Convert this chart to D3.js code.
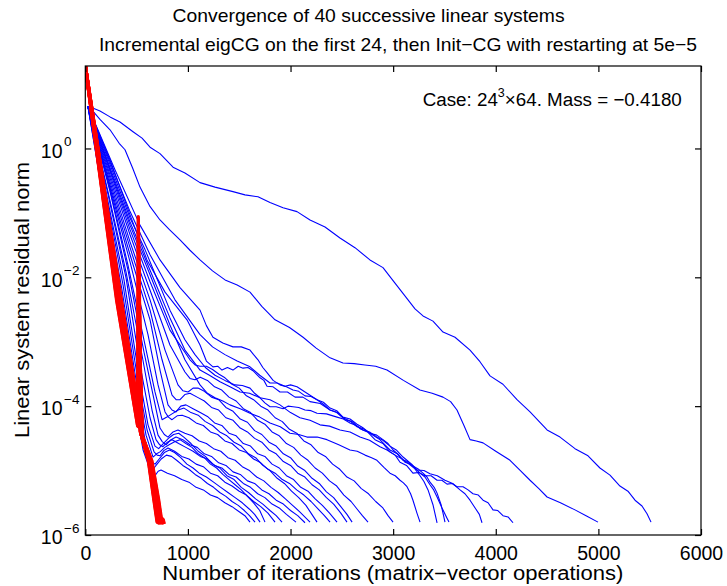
<!DOCTYPE html>
<html><head><meta charset="utf-8">
<script src="https://cdn.jsdelivr.net/npm/d3@7"></script>
<style>
body{margin:0;background:#fff}
text{font-family:"Liberation Sans",Arial,Helvetica,sans-serif;fill:#000}
</style>
</head><body>
<svg id="chart" width="727" height="586"></svg>
<script>
// ---------- data (iteration, log10 of residual norm) ----------
const titleLines = ["Convergence of 40 successive linear systems",
  "Incremental eigCG on the first 24, then Init\u2212CG with restarting at 5e\u22125"];
const xLabel = "Number of iterations (matrix\u2212vector operations)";
const yLabel = "Linear system residual norm";
const xTicks = [0,1000,2000,3000,4000,5000,6000];
const yTickExps = [0,-2,-4,-6];
const xDomain = [0,6000];
const yDomainExp = [-6,1.28];

// eigCG systems 1..24 (blue)
const sys01=[[37,0.65],[143,0.58],[241,0.49],[338,0.41],[465,0.26],[553,0.16],[631,0.02],[728,-0.08],[855,-0.29],[971,-0.38],[1118,-0.53],[1264,-0.6],[1439,-0.67],[1556,-0.72],[1683,-0.75],[1800,-0.84],[1927,-0.92],[2063,-0.98],[2190,-1.11],[2336,-1.22],[2482,-1.39],[2628,-1.54],[2774,-1.73],[2901,-1.85],[3018,-2.09],[3145,-2.35],[3213,-2.49],[3291,-2.6],[3388,-2.68],[3486,-2.85],[3603,-2.93],[3749,-3.13],[3846,-3.31],[3944,-3.53],[4070,-3.66],[4207,-3.9],[4334,-4.09],[4500,-4.37],[4626,-4.48],[4772,-4.66],[4899,-4.77],[5015,-4.96],[5113,-5.07],[5210,-5.24],[5288,-5.32],[5357,-5.46],[5425,-5.55],[5474,-5.67],[5513,-5.8]];
const sys02=[[37,0.65],[143,0.45],[241,0.29],[330,0.08],[387,-0.02],[460,-0.3],[533,-0.6],[630,-0.9],[728,-1.11],[820,-1.26],[923,-1.42],[1020,-1.58],[1118,-1.73],[1240,-1.9],[1362,-2.04],[1480,-2.12],[1605,-2.23],[1720,-2.45],[1849,-2.66],[1990,-2.78],[2122,-2.93],[2250,-3.1],[2385,-3.25],[2511,-3.33],[2620,-3.34],[2725,-3.36],[2830,-3.38],[2940,-3.44],[3100,-3.6],[3261,-3.75],[3380,-3.8],[3486,-3.86],[3560,-3.93],[3622,-4.06],[3690,-4.3],[3749,-4.52],[3810,-4.54],[3876,-4.57],[4000,-4.7],[4139,-4.84],[4240,-5.0],[4334,-5.15],[4420,-5.28],[4500,-5.41],[4630,-5.5],[4772,-5.61],[4880,-5.7],[4996,-5.8]];
const sys03=[[26,0.65],[241,-0.18],[436,-1.03],[601,-1.73],[777,-2.23],[991,-2.66],[1118,-3.05],[1180,-3.3],[1244,-3.39],[1290,-3.38],[1332,-3.44],[1385,-3.4],[1439,-3.44],[1490,-3.38],[1537,-3.41],[1585,-3.4],[1634,-3.45],[1703,-3.56],[1740,-3.6],[1771,-3.69],[1830,-3.7],[1897,-3.78],[1970,-3.78],[2044,-3.86],[2120,-3.86],[2190,-3.93],[2290,-3.96],[2385,-4.06],[2460,-4.1],[2531,-4.21],[2600,-4.24],[2677,-4.35],[2750,-4.4],[2823,-4.52],[2900,-4.58],[2969,-4.71],[3020,-4.76],[3067,-4.87],[3130,-4.92],[3193,-5.04],[3250,-5.03],[3310,-5.08],[3370,-5.08],[3428,-5.15],[3475,-5.15],[3525,-5.21],[3575,-5.2],[3622,-5.25],[3681,-5.25],[3730,-5.3],[3778,-5.36],[3830,-5.38],[3876,-5.46],[3925,-5.5],[3973,-5.61],[4020,-5.62],[4070,-5.7],[4120,-5.72],[4168,-5.81]];
const sys04=[[26,0.65],[241,-0.21],[436,-0.98],[631,-1.65],[874,-2.35],[1118,-2.89],[1240,-3.08],[1361,-3.2],[1480,-3.3],[1605,-3.39],[1700,-3.52],[1800,-3.64],[1870,-3.64],[1946,-3.69],[2000,-3.67],[2063,-3.7],[2160,-3.8],[2258,-3.9],[2320,-3.94],[2385,-4.03],[2450,-4.07],[2511,-4.17],[2580,-4.2],[2648,-4.28],[2710,-4.34],[2774,-4.42],[2870,-4.52],[2969,-4.68],[3040,-4.74],[3115,-4.87],[3170,-4.9],[3232,-4.99],[3300,-5.0],[3359,-5.05],[3430,-5.08],[3505,-5.15],[3580,-5.2],[3652,-5.3],[3700,-5.36],[3749,-5.46],[3807,-5.6],[3840,-5.68],[3866,-5.81]];
const sys05=[[26,0.65],[289,-0.33],[533,-1.19],[728,-1.73],[923,-2.16],[1118,-2.51],[1180,-2.75],[1244,-2.93],[1340,-3.02],[1439,-3.08],[1520,-3.08],[1605,-3.13],[1640,-3.2],[1683,-3.28],[1730,-3.4],[1771,-3.48],[1830,-3.6],[1897,-3.67],[1960,-3.7],[2024,-3.75],[2080,-3.77],[2141,-3.84],[2200,-3.85],[2258,-3.9],[2320,-3.97],[2385,-4.06],[2450,-4.1],[2511,-4.18],[2580,-4.23],[2648,-4.32],[2710,-4.35],[2774,-4.42],[2840,-4.45],[2901,-4.52],[2950,-4.58],[2999,-4.68],[3050,-4.75],[3096,-4.84],[3145,-4.86],[3193,-4.93],[3240,-4.97],[3291,-5.04],[3330,-5.1],[3359,-5.18],[3400,-5.26],[3428,-5.35],[3467,-5.53],[3486,-5.66],[3505,-5.8]];
const sys06=[[26,0.65],[241,-0.25],[436,-1.08],[582,-1.57],[825,-2.51],[971,-2.97],[1069,-3.2],[1170,-3.4],[1264,-3.52],[1360,-3.6],[1459,-3.67],[1530,-3.68],[1605,-3.72],[1650,-3.8],[1703,-3.87],[1750,-3.95],[1800,-4.01],[1860,-4.01],[1927,-4.04],[1975,-4.0],[2024,-4.01],[2080,-4.02],[2141,-4.06],[2200,-4.07],[2258,-4.11],[2350,-4.12],[2453,-4.17],[2515,-4.2],[2579,-4.26],[2640,-4.3],[2706,-4.37],[2770,-4.4],[2842,-4.48],[2900,-4.53],[2969,-4.62],[3030,-4.68],[3096,-4.79],[3180,-4.9],[3262,-5.04],[3310,-5.1],[3359,-5.22],[3395,-5.3],[3428,-5.41],[3476,-5.58],[3525,-5.74],[3544,-5.8]];
const sys07=[[26,0.65],[241,-0.3],[436,-1.14],[631,-1.89],[825,-2.63],[971,-3.13],[1118,-3.44],[1210,-3.52],[1313,-3.62],[1410,-3.7],[1508,-3.78],[1600,-3.8],[1703,-3.87],[1800,-3.9],[1897,-3.98],[2000,-4.1],[2092,-4.18],[2190,-4.22],[2287,-4.29],[2380,-4.31],[2482,-4.37],[2580,-4.4],[2677,-4.48],[2770,-4.53],[2872,-4.63],[2940,-4.68],[3018,-4.76],[3090,-4.82],[3164,-4.91],[3210,-4.97],[3262,-5.08],[3300,-5.17],[3340,-5.3],[3388,-5.53],[3428,-5.81]];
const sys08=[[26,0.65],[241,-0.33],[436,-1.19],[631,-1.96],[825,-2.74],[971,-3.28],[1118,-3.67],[1190,-3.8],[1264,-3.87],[1340,-3.92],[1410,-3.98],[1510,-4.04],[1605,-4.11],[1700,-4.17],[1800,-4.26],[1900,-4.32],[1995,-4.42],[2080,-4.44],[2160,-4.48],[2260,-4.48],[2355,-4.52],[2470,-4.6],[2579,-4.68],[2650,-4.7],[2726,-4.76],[2790,-4.8],[2842,-4.84],[2910,-4.95],[2969,-5.04],[3020,-5.08],[3067,-5.15],[3100,-5.19],[3135,-5.25],[3170,-5.36],[3193,-5.46],[3232,-5.66],[3262,-5.8]];
const sys09=[[26,0.65],[241,-0.36],[436,-1.26],[631,-2.07],[825,-2.82],[1020,-3.28],[1070,-3.36],[1118,-3.38],[1180,-3.38],[1240,-3.43],[1300,-3.5],[1361,-3.56],[1430,-3.66],[1500,-3.72],[1570,-3.84],[1640,-3.9],[1710,-4.0],[1780,-4.06],[1850,-4.18],[1920,-4.24],[1990,-4.36],[2060,-4.42],[2130,-4.54],[2200,-4.6],[2270,-4.72],[2340,-4.78],[2410,-4.9],[2480,-4.98],[2550,-5.1],[2620,-5.16],[2690,-5.28],[2760,-5.36],[2830,-5.48],[2900,-5.58],[2950,-5.7],[2999,-5.8]];
const sys10=[[26,0.65],[241,-0.41],[436,-1.34],[631,-2.2],[825,-3.05],[971,-3.47],[1020,-3.57],[1069,-3.59],[1120,-3.55],[1190,-3.6],[1260,-3.7],[1330,-3.75],[1400,-3.86],[1470,-3.92],[1540,-4.04],[1610,-4.1],[1680,-4.22],[1750,-4.28],[1820,-4.4],[1890,-4.46],[1960,-4.58],[2030,-4.64],[2100,-4.76],[2170,-4.84],[2240,-4.96],[2310,-5.04],[2380,-5.16],[2450,-5.24],[2520,-5.38],[2590,-5.48],[2650,-5.6],[2700,-5.7],[2755,-5.8]];
const sys11=[[26,0.65],[241,-0.46],[436,-1.45],[631,-2.35],[777,-3.13],[903,-3.67],[950,-3.76],[1001,-3.78],[1050,-3.72],[1098,-3.72],[1160,-3.77],[1230,-3.86],[1300,-3.9],[1370,-4.02],[1440,-4.08],[1510,-4.2],[1580,-4.25],[1650,-4.38],[1720,-4.44],[1790,-4.56],[1860,-4.62],[1930,-4.74],[2000,-4.8],[2070,-4.93],[2140,-5.0],[2210,-5.12],[2280,-5.2],[2350,-5.33],[2420,-5.42],[2490,-5.56],[2550,-5.68],[2600,-5.8]];
const sys12=[[26,0.65],[241,-0.52],[436,-1.54],[631,-2.51],[748,-3.28],[845,-3.83],[885,-3.9],[923,-3.9],[970,-3.82],[1020,-3.8],[1090,-3.86],[1160,-3.92],[1230,-4.02],[1300,-4.06],[1370,-4.18],[1440,-4.22],[1510,-4.34],[1580,-4.4],[1650,-4.5],[1720,-4.56],[1790,-4.68],[1860,-4.74],[1930,-4.86],[2000,-4.92],[2070,-5.04],[2140,-5.1],[2210,-5.22],[2280,-5.3],[2350,-5.42],[2420,-5.52],[2490,-5.66],[2550,-5.8]];
const sys13=[[26,0.65],[241,-0.57],[436,-1.65],[631,-2.66],[728,-3.44],[806,-3.98],[845,-4.06],[884,-4.09],[930,-4.0],[981,-3.98],[1050,-4.04],[1120,-4.1],[1190,-4.16],[1260,-4.26],[1330,-4.3],[1400,-4.42],[1470,-4.46],[1540,-4.58],[1610,-4.62],[1680,-4.74],[1750,-4.78],[1820,-4.9],[1890,-4.96],[1960,-5.08],[2030,-5.14],[2100,-5.26],[2170,-5.32],[2240,-5.44],[2310,-5.54],[2380,-5.66],[2453,-5.8]];
const sys14=[[26,0.65],[241,-0.61],[436,-1.76],[611,-2.89],[709,-3.67],[777,-4.09],[810,-4.17],[845,-4.21],[895,-4.15],[943,-4.14],[1010,-4.18],[1080,-4.26],[1150,-4.3],[1220,-4.4],[1290,-4.44],[1360,-4.54],[1430,-4.58],[1500,-4.68],[1570,-4.72],[1640,-4.82],[1710,-4.88],[1780,-4.98],[1850,-5.04],[1920,-5.14],[1990,-5.2],[2060,-5.3],[2130,-5.38],[2200,-5.48],[2270,-5.6],[2330,-5.7],[2385,-5.8]];
const sys15=[[26,0.65],[241,-0.64],[416,-1.81],[582,-3.05],[679,-3.78],[748,-4.21],[795,-4.17],[845,-4.12],[905,-4.06],[962,-4.03],[1030,-4.1],[1100,-4.14],[1170,-4.24],[1240,-4.3],[1310,-4.4],[1380,-4.46],[1450,-4.56],[1520,-4.62],[1590,-4.74],[1660,-4.8],[1730,-4.92],[1800,-5.0],[1870,-5.12],[1940,-5.2],[2010,-5.32],[2080,-5.42],[2150,-5.54],[2200,-5.66],[2258,-5.8]];
const sys16=[[26,0.65],[241,-0.67],[416,-1.89],[572,-3.16],[670,-3.9],[728,-4.34],[770,-4.44],[806,-4.48],[855,-4.4],[903,-4.37],[970,-4.42],[1040,-4.46],[1110,-4.54],[1180,-4.58],[1250,-4.66],[1320,-4.7],[1390,-4.8],[1460,-4.84],[1530,-4.94],[1600,-5.0],[1670,-5.1],[1740,-5.16],[1810,-5.26],[1880,-5.34],[1950,-5.44],[2020,-5.54],[2090,-5.64],[2190,-5.8]];
const sys17=[[26,0.65],[221,-0.67],[397,-1.92],[553,-3.21],[650,-4.06],[709,-4.45],[750,-4.55],[787,-4.6],[835,-4.52],[884,-4.48],[950,-4.52],[1020,-4.6],[1090,-4.64],[1160,-4.74],[1230,-4.78],[1300,-4.88],[1370,-4.92],[1440,-5.02],[1510,-5.06],[1580,-5.16],[1650,-5.2],[1720,-5.3],[1790,-5.36],[1860,-5.46],[1930,-5.52],[2000,-5.62],[2070,-5.7],[2141,-5.81]];
const sys18=[[26,0.65],[221,-0.71],[397,-2.01],[533,-3.36],[631,-4.18],[689,-4.52],[725,-4.6],[757,-4.63],[800,-4.56],[845,-4.52],[910,-4.58],[980,-4.64],[1050,-4.7],[1120,-4.78],[1190,-4.82],[1260,-4.92],[1330,-4.96],[1400,-5.06],[1470,-5.1],[1540,-5.2],[1610,-5.26],[1680,-5.36],[1750,-5.42],[1820,-5.52],[1890,-5.58],[1960,-5.68],[2053,-5.8]];
const sys19=[[26,0.65],[212,-0.75],[377,-2.04],[514,-3.44],[611,-4.29],[679,-4.62],[715,-4.66],[760,-4.58],[810,-4.5],[860,-4.44],[910,-4.42],[960,-4.48],[1030,-4.58],[1100,-4.7],[1170,-4.78],[1240,-4.9],[1310,-4.96],[1380,-5.08],[1450,-5.14],[1520,-5.26],[1590,-5.34],[1660,-5.44],[1730,-5.52],[1800,-5.62],[1860,-5.7],[1917,-5.8]];
const sys20=[[26,0.65],[212,-0.8],[368,-2.12],[504,-3.52],[602,-4.37],[670,-4.71],[700,-4.76],[728,-4.77],[765,-4.69],[806,-4.65],[870,-4.7],[940,-4.78],[1010,-4.82],[1080,-4.9],[1150,-4.94],[1220,-5.04],[1290,-5.08],[1360,-5.18],[1430,-5.24],[1500,-5.32],[1570,-5.38],[1640,-5.48],[1710,-5.56],[1780,-5.66],[1849,-5.8]];
const sys21=[[26,0.65],[202,-0.82],[358,-2.2],[494,-3.59],[592,-4.45],[660,-4.79],[695,-4.74],[728,-4.71],[775,-4.64],[825,-4.59],[875,-4.55],[923,-4.52],[980,-4.58],[1040,-4.64],[1100,-4.74],[1160,-4.8],[1220,-4.9],[1280,-4.96],[1340,-5.06],[1400,-5.14],[1460,-5.22],[1520,-5.3],[1580,-5.4],[1640,-5.5],[1700,-5.62],[1751,-5.8]];
const sys22=[[26,0.65],[202,-0.87],[348,-2.27],[484,-3.67],[582,-4.52],[650,-4.87],[680,-4.9],[720,-4.82],[770,-4.72],[820,-4.68],[870,-4.72],[930,-4.8],[990,-4.9],[1050,-4.96],[1110,-5.04],[1180,-5.1],[1250,-5.18],[1320,-5.26],[1390,-5.34],[1460,-5.42],[1530,-5.5],[1600,-5.6],[1650,-5.68],[1703,-5.8]];
const sys23=[[26,0.65],[192,-0.9],[338,-2.32],[475,-3.75],[572,-4.6],[640,-4.93],[670,-4.96],[699,-4.9],[740,-4.82],[790,-4.76],[840,-4.78],[890,-4.84],[950,-4.92],[1010,-4.98],[1070,-5.06],[1130,-5.12],[1190,-5.2],[1250,-5.26],[1310,-5.34],[1370,-5.4],[1430,-5.48],[1490,-5.54],[1550,-5.62],[1600,-5.7],[1654,-5.8]];
const sys24=[[26,0.65],[192,-0.95],[329,-2.35],[465,-3.83],[563,-4.68],[631,-4.99],[655,-5.06],[679,-5.08],[710,-5.01],[738,-4.99],[800,-5.04],[870,-5.08],[940,-5.14],[1010,-5.18],[1080,-5.26],[1150,-5.3],[1220,-5.38],[1290,-5.42],[1360,-5.5],[1430,-5.56],[1500,-5.64],[1555,-5.7],[1605,-5.8]];

// Init-CG systems 25..40 (red)
const sys25=[[0,1.28],[305,-2.35],[510,-4.3],[516,-1.06],[535,-4.38],[615,-4.85],[668,-5.45],[700,-5.8],[710,-5.75],[722,-5.83]];
const sys26=[[0,1.28],[312,-2.35],[515,-4.3],[521,-1.6],[538,-4.4],[620,-4.85],[674,-5.45],[706,-5.8],[718,-5.76],[728,-5.83]];
const sys27=[[0,1.28],[318,-2.35],[520,-4.32],[526,-2.1],[541,-4.42],[624,-4.85],[680,-5.45],[712,-5.8],[722,-5.75],[734,-5.82]];
const sys28=[[0,1.28],[324,-2.35],[524,-4.3],[529,-2.6],[544,-4.42],[628,-4.85],[686,-5.45],[718,-5.8],[730,-5.76],[740,-5.83]];
const sys29=[[0,1.28],[330,-2.35],[528,-4.33],[532,-3.0],[547,-4.44],[632,-4.85],[692,-5.45],[724,-5.8],[735,-5.75],[746,-5.82]];
const sys30=[[0,1.28],[336,-2.35],[532,-4.3],[536,-3.4],[550,-4.46],[636,-4.85],[698,-5.45],[730,-5.8],[742,-5.76],[752,-5.83]];
const sys31=[[0,1.28],[342,-2.35],[536,-4.32],[540,-3.7],[553,-4.46],[640,-4.85],[704,-5.45],[736,-5.8],[748,-5.75],[758,-5.82]];
const sys32=[[0,1.28],[348,-2.35],[540,-4.3],[543,-3.9],[556,-4.47],[645,-4.85],[710,-5.45],[742,-5.8],[754,-5.76],[764,-5.83]];
const sys33=[[0,1.28],[308,-2.35],[512,-4.31],[518,-1.3],[536,-4.39],[617,-4.85],[671,-5.45],[703,-5.8],[714,-5.75],[724,-5.83]];
const sys34=[[0,1.28],[315,-2.35],[517,-4.3],[523,-1.9],[539,-4.41],[622,-4.85],[677,-5.45],[709,-5.8],[720,-5.76],[731,-5.82]];
const sys35=[[0,1.28],[321,-2.35],[522,-4.32],[527,-2.4],[542,-4.42],[626,-4.85],[683,-5.45],[715,-5.8],[727,-5.75],[737,-5.83]];
const sys36=[[0,1.28],[327,-2.35],[526,-4.3],[530,-2.8],[545,-4.43],[630,-4.85],[689,-5.45],[721,-5.8],[732,-5.76],[743,-5.82]];
const sys37=[[0,1.28],[333,-2.35],[530,-4.31],[534,-3.2],[548,-4.45],[634,-4.85],[695,-5.45],[727,-5.8],[739,-5.75],[749,-5.83]];
const sys38=[[0,1.28],[339,-2.35],[534,-4.3],[538,-3.55],[551,-4.46],[638,-4.85],[701,-5.45],[733,-5.8],[745,-5.76],[755,-5.82]];
const sys39=[[0,1.28],[345,-2.35],[538,-4.32],[541,-3.8],[554,-4.47],[642,-4.85],[707,-5.45],[739,-5.8],[751,-5.75],[761,-5.83]];
const sys40=[[0,1.28],[351,-2.35],[542,-4.3],[545,-4.0],[558,-4.48],[648,-4.85],[714,-5.45],[746,-5.8],[758,-5.76],[770,-5.83]];

const eigcgSystems=[sys01,sys02,sys03,sys04,sys05,sys06,sys07,sys08,sys09,sys10,sys11,sys12,sys13,sys14,sys15,sys16,sys17,sys18,sys19,sys20,sys21,sys22,sys23,sys24];
const initcgSystems=[sys25,sys26,sys27,sys28,sys29,sys30,sys31,sys32,sys33,sys34,sys35,sys36,sys37,sys38,sys39,sys40];

// ---------- drawing ----------
const svg=d3.select("#chart");
const L=85.3,R=701,T=66,B=535;
const x=d3.scaleLinear().domain(xDomain).range([L,R]);
const y=d3.scaleLog().domain(yDomainExp.map(e=>Math.pow(10,e))).range([B,T]);

svg.append("defs").append("clipPath").attr("id","clip")
  .append("rect").attr("x",L).attr("y",T).attr("width",R-L).attr("height",B-T);

const line=d3.line().x(d=>x(d[0])).y(d=>y(Math.pow(10,d[1])));
const g=svg.append("g").attr("clip-path","url(#clip)");
g.selectAll("path.blue").data(eigcgSystems).join("path").attr("class","blue")
  .attr("d",line).attr("fill","none").attr("stroke","#0000ff").attr("stroke-width",1.1)
  .attr("stroke-linejoin","round");
g.selectAll("path.red").data(initcgSystems).join("path").attr("class","red")
  .attr("d",line).attr("fill","none").attr("stroke","#ff0000").attr("stroke-width",3.4)
  .attr("stroke-linejoin","round");

// box
svg.append("rect").attr("x",L).attr("y",T).attr("width",R-L).attr("height",B-T)
  .attr("fill","none").attr("stroke","#000").attr("stroke-width",1.2);

// axes ticks (inward)
const tickLen=6;
const axB=svg.append("g").attr("transform",`translate(0,${B})`)
  .call(d3.axisBottom(x).tickValues(xTicks).tickSize(-tickLen).tickSizeOuter(0).tickPadding(12).tickFormat(d3.format("d")));
const axT=svg.append("g").attr("transform",`translate(0,${T})`)
  .call(d3.axisTop(x).tickValues(xTicks).tickSize(-tickLen).tickSizeOuter(0).tickFormat(""));
const yVals=yTickExps.map(e=>Math.pow(10,e));
const axL=svg.append("g").attr("transform",`translate(${L},0)`)
  .call(d3.axisLeft(y).tickValues(yVals).tickSize(-tickLen).tickSizeOuter(0).tickFormat(""));
const axR=svg.append("g").attr("transform",`translate(${R},0)`)
  .call(d3.axisRight(y).tickValues(yVals).tickSize(-tickLen).tickSizeOuter(0).tickFormat(""));
[axB,axT,axL,axR].forEach(a=>{a.select(".domain").remove();
  a.selectAll(".tick line").attr("stroke","#000").attr("stroke-width",1.2);});
axB.selectAll(".tick text").attr("font-size",19.5).attr("fill","#000")
  .attr("font-family","Liberation Sans, Arial, sans-serif").attr("dy",0).attr("y",25);

// y tick labels 10^e
yTickExps.forEach(e=>{
  svg.append("text").attr("x",62.5).attr("y",y(Math.pow(10,e))+9.3)
    .attr("font-size",19.5).attr("text-anchor","end").text("10");
  svg.append("text").attr("x",64).attr("y",y(Math.pow(10,e))-2)
    .attr("font-size",13.5).text(e===0?"0":"\u2212"+Math.abs(e));
});

// titles and labels
svg.append("text").attr("x",368.6).attr("y",22).attr("text-anchor","middle")
  .attr("font-size",19).attr("textLength",392).attr("lengthAdjust","spacingAndGlyphs").text(titleLines[0]);
svg.append("text").attr("x",398).attr("y",51).attr("text-anchor","middle")
  .attr("font-size",19).attr("textLength",598).attr("lengthAdjust","spacingAndGlyphs").text(titleLines[1]);
svg.append("text").attr("x",392.8).attr("y",580).attr("text-anchor","middle")
  .attr("font-size",19.5).attr("textLength",461).attr("lengthAdjust","spacingAndGlyphs").text(xLabel);
svg.append("text").attr("transform","translate(29,300) rotate(-90)").attr("text-anchor","middle")
  .attr("font-size",19.5).attr("textLength",276).attr("lengthAdjust","spacingAndGlyphs").text(yLabel);

// annotation
const ann=svg.append("text").attr("x",422.7).attr("y",105.7).attr("font-size",18.8);
ann.append("tspan").text("Case: 24");
ann.append("tspan").attr("font-size",12.5).attr("dy",-9).text("3");
ann.append("tspan").attr("dy",9).text("\u00d764. Mass = \u22120.4180");
</script>
</body></html>
